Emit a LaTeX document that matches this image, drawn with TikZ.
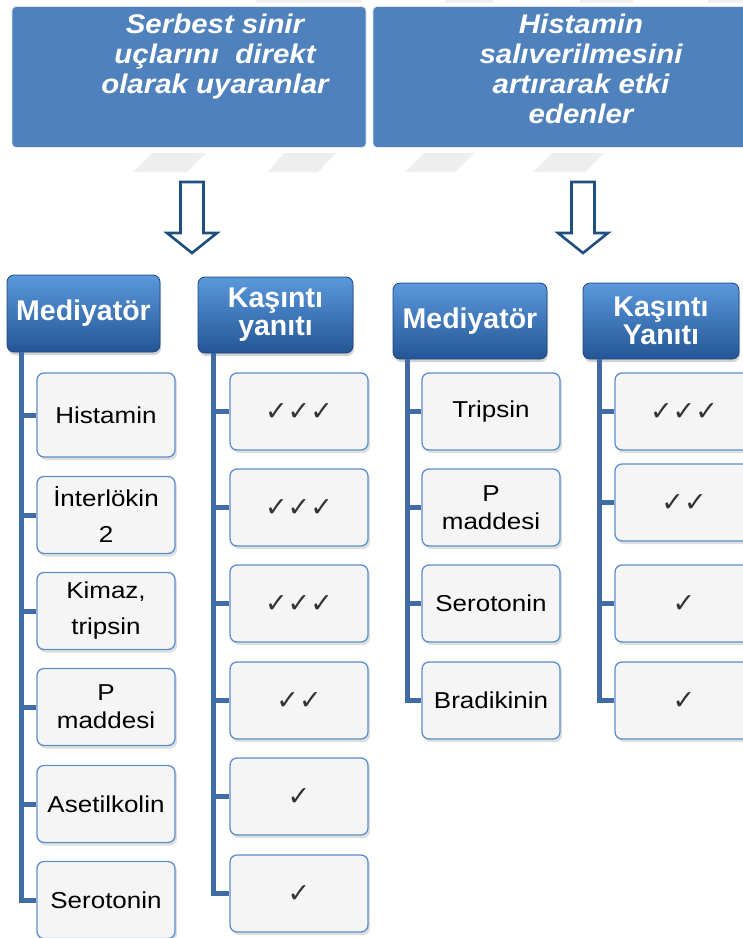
\documentclass[tikz,border=0pt]{standalone}
\usepackage{fontspec}
\setmainfont{Liberation Sans}
\newfontfamily\bodyf[FakeStretch=1.13]{Liberation Sans}
\newfontfamily\topf[FakeStretch=1.09]{Liberation Sans}
\newfontfamily\symf{DejaVu Sans}
\usetikzlibrary{shadows}
\definecolor{topblue}{RGB}{79,129,189}
\definecolor{hdrtop}{RGB}{90,152,220}
\definecolor{hdrbot}{RGB}{36,86,150}
\definecolor{hdrline}{RGB}{30,70,125}
\definecolor{boxline}{RGB}{91,143,205}
\definecolor{boxfill}{RGB}{245,245,245}
\definecolor{conncol}{RGB}{64,108,163}
\definecolor{arrowcol}{RGB}{31,78,128}
\definecolor{ghost}{RGB}{238,238,238}
\tikzset{
  topbox/.style={fill=topblue, draw=white!80!topblue, line width=0.8pt, rounded corners=4pt, inner sep=0pt},
  toptext/.style={text=white, align=center, inner sep=0pt, font=\topf\fontsize{27}{30}\selectfont\bfseries\itshape},
  hdr/.style={rounded corners=7pt, top color=hdrtop, bottom color=hdrbot, draw=hdrline, line width=0.8pt,
    text=white, align=center, inner sep=0pt, font=\fontsize{28.5}{28}\selectfont\bfseries,
    drop shadow={shadow xshift=1pt, shadow yshift=-3pt, opacity=0.35}},
  child/.style={rounded corners=7pt, fill=boxfill, draw=boxline, line width=1.3pt, align=center,
    inner sep=0pt, minimum width=138pt, minimum height=77pt, font=\bodyf\fontsize{23}{28}\selectfont,
    drop shadow={shadow xshift=2pt, shadow yshift=-3pt, opacity=0.25}},
  tick/.style={child, text=black!80, font=\symf\fontsize{27}{27}\selectfont},
  conn/.style={draw=conncol, line width=5pt, line join=miter},
  hollow/.style={draw=arrowcol, line width=2.6pt, fill=white, line join=miter},
  blockarrow/.pic={\draw[hollow] (-11.5,0) -- (11.5,0) -- (11.5,51) -- (25,51) -- (0,71) -- (-25,51) -- (-11.5,51) -- cycle;}
}
\begin{document}
\begin{tikzpicture}[x=1pt,y=-1pt]
\useasboundingbox (0,0) rectangle (743,938);
\fill[white] (0,0) rectangle (743,938);
% faint ghost shapes
\foreach \a/\b in {256/362,445/493,580/633,708/743}{\fill[ghost] (\a,0) rectangle (\b,3);}
\fill[ghost] (152,153) -- (206,153) -- (187,172) -- (133,172) -- cycle;
\fill[ghost] (284,153) -- (336,153) -- (318,172) -- (268,172) -- cycle;
\fill[ghost] (424,153) -- (474,153) -- (455,172) -- (405,172) -- cycle;
\fill[ghost] (552,153) -- (604,153) -- (585,172) -- (533,172) -- cycle;
% top boxes
\node[topbox, minimum width=354pt, minimum height=141pt] (tl) at (189,77) {};
\node[toptext, anchor=north] (tlt) at (215,14) {Serbest sinir\\uçlarını~ direkt\\olarak uyaranlar};
\node[topbox, minimum width=430pt, minimum height=141pt] (tr) at (588,77) {};
\node[toptext, anchor=north] (trt) at (581,14) {Histamin\\salıverilmesini\\artırarak etki\\edenler};
% arrows
\pic at (192,182) {blockarrow};
\pic at (583,182) {blockarrow};
% left group headers
\node[hdr, minimum width=153pt, minimum height=77pt] (hLm) at (83.5,313.5) {Mediyatör};
\node[hdr, minimum width=155pt, minimum height=76pt] (hLk) at (275.5,315) {Kaşıntı\\yanıtı};
% left mediators
\node[child, minimum height=84pt] (a1) at (106,415) {Histamin};
\node[child, font=\bodyf\fontsize{23}{36}\selectfont] (a2) at (106,515) {İnterlökin\\2};
\node[child, font=\bodyf\fontsize{23}{36}\selectfont] (a3) at (106,611) {Kimaz,\\tripsin};
\node[child] (a4) at (106,707) {P\\maddesi};
\node[child] (a5) at (106,804) {Asetilkolin};
\node[child] (a6) at (106,900) {Serotonin};
% left responses
\node[tick] (b1) at (299,411.5) {✓✓✓};
\node[tick] (b2) at (299,507.5) {✓✓✓};
\node[tick] (b3) at (299,603.5) {✓✓✓};
\node[tick] (b4) at (299,700.5) {✓✓};
\node[tick] (b5) at (299,796.5) {✓};
\node[tick] (b6) at (299,893.5) {✓};
% right group headers
\node[hdr, minimum width=154pt, minimum height=76pt] (hRm) at (470,321) {Mediyatör};
\node[hdr, minimum width=156pt, minimum height=76pt] (hRk) at (661,321) {Kaşıntı\\Yanıtı};
% right mediators
\node[child] (c1) at (491,411.5) {Tripsin};
\node[child] (c2) at (491,507.5) {P\\maddesi};
\node[child] (c3) at (491,603.5) {Serotonin};
\node[child] (c4) at (491,700.5) {Bradikinin};
% right responses
\node[tick] (d1) at (684,411.5) {✓✓✓};
\node[tick] (d2) at (684,502.5) {✓✓};
\node[tick] (d3) at (684,603.5) {✓};
\node[tick] (d4) at (684,700.5) {✓};
% connectors
\foreach \n in {a1,a2,a3,a4,a5,a6}{\draw[conn] ([xshift=15pt]hLm.south west) |- (\n.west);}
\foreach \n in {b1,b2,b3,b4,b5,b6}{\draw[conn] ([xshift=16pt]hLk.south west) |- (\n.west);}
\foreach \n in {c1,c2,c3,c4}{\draw[conn] ([xshift=15pt]hRm.south west) |- (\n.west);}
\foreach \n in {d1,d2,d3,d4}{\draw[conn] ([xshift=17pt]hRk.south west) |- (\n.west);}
\end{tikzpicture}
\end{document}
